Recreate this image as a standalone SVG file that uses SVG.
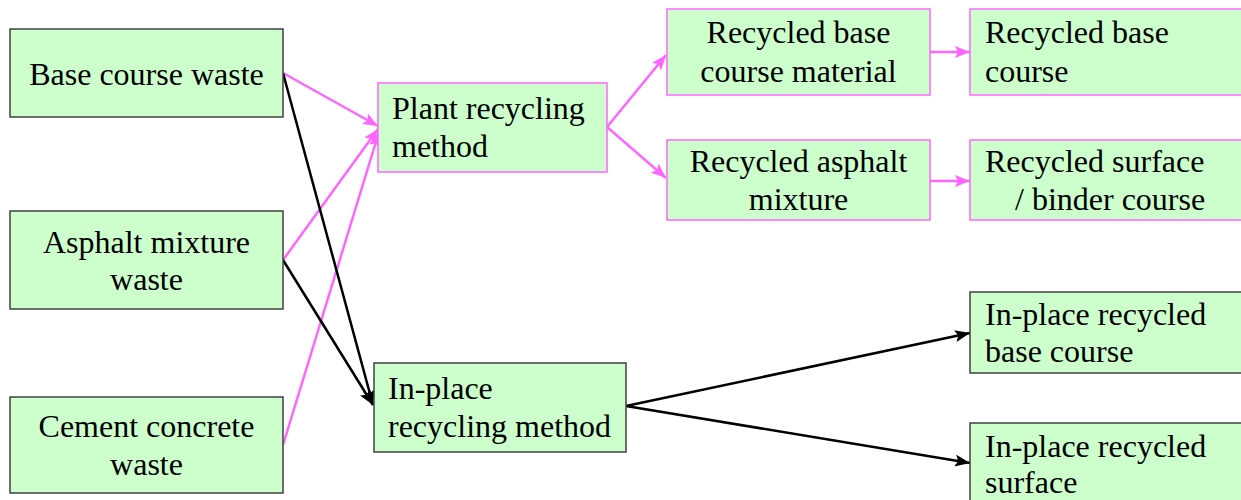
<svg xmlns="http://www.w3.org/2000/svg" width="1241" height="500" viewBox="0 0 1241 500">
<defs>
<style>
.box{fill:#ccffcc;stroke-width:1.5}
.dk{stroke:#404040}
.pk{stroke:#ff66ff}
text{font-family:"Liberation Serif","Times New Roman",serif;font-size:32px;fill:#000}
.c{text-anchor:middle}
.lp{stroke:#ff66ff;stroke-width:2.5;fill:none}
.lb{stroke:#000;stroke-width:2.5;fill:none}
</style>
<marker id="ap" markerUnits="userSpaceOnUse" markerWidth="15" markerHeight="12" viewBox="0 0 15 12" refX="15" refY="6" orient="auto"><path d="M0,0 L15,6 L0,12 L3,6 Z" fill="#ff66ff"/></marker>
<marker id="ab" markerUnits="userSpaceOnUse" markerWidth="15" markerHeight="12" viewBox="0 0 15 12" refX="15" refY="6" orient="auto"><path d="M0,0 L15,6 L0,12 L3,6 Z" fill="#000"/></marker>
</defs>
<rect width="1241" height="500" fill="#fff"/>
<g id="connectors">
<line class="lp" x1="283" y1="73" x2="378" y2="126" marker-end="url(#ap)"/>
<line class="lp" x1="283" y1="260" x2="378" y2="129" marker-end="url(#ap)"/>
<line class="lp" x1="283" y1="445" x2="379" y2="132" marker-end="url(#ap)"/>
<line class="lp" x1="607" y1="127" x2="666" y2="55" marker-end="url(#ap)"/>
<line class="lp" x1="607" y1="127" x2="666" y2="178" marker-end="url(#ap)"/>
<line class="lp" x1="930" y1="52" x2="970" y2="52" marker-end="url(#ap)"/>
<line class="lp" x1="930" y1="181" x2="970" y2="181" marker-end="url(#ap)"/>
<line class="lb" x1="283" y1="73" x2="373" y2="405" marker-end="url(#ab)"/>
<line class="lb" x1="283" y1="260" x2="373" y2="405" marker-end="url(#ab)"/>
<line class="lb" x1="626" y1="406" x2="970" y2="333" marker-end="url(#ab)"/>
<line class="lb" x1="626" y1="406" x2="970" y2="463" marker-end="url(#ab)"/>
</g>
<g id="base-course-waste"><rect class="box dk" x="10" y="29" width="273" height="88"/><text class="c" x="146.5" y="85">Base course waste</text></g>
<g id="asphalt-mixture-waste"><rect class="box dk" x="10" y="211" width="273" height="98"/><text class="c" x="146.5" y="253">Asphalt mixture</text><text class="c" x="146.5" y="290">waste</text></g>
<g id="cement-concrete-waste"><rect class="box dk" x="10" y="397" width="273" height="96"/><text class="c" x="146.5" y="437">Cement concrete</text><text class="c" x="146.5" y="475">waste</text></g>
<g id="plant-recycling"><rect class="box pk" x="378" y="83" width="229" height="89"/><text x="392" y="119">Plant recycling</text><text x="392" y="157">method</text></g>
<g id="recycled-base-material"><rect class="box pk" x="667" y="9" width="263" height="86"/><text class="c" x="798.5" y="43">Recycled base</text><text class="c" x="798.5" y="82">course material</text></g>
<g id="recycled-asphalt-mixture"><rect class="box pk" x="667" y="140" width="263" height="80"/><text class="c" x="798.5" y="172">Recycled asphalt</text><text class="c" x="798.5" y="210">mixture</text></g>
<g id="recycled-base-course"><rect class="box pk" x="970" y="9" width="280" height="86"/><text x="985" y="43">Recycled base</text><text x="985" y="82">course</text></g>
<g id="recycled-surface-binder"><rect class="box pk" x="970" y="140" width="280" height="80"/><text x="985" y="172">Recycled surface</text><text x="1015" y="210">/ binder course</text></g>
<g id="in-place-recycling"><rect class="box dk" x="374" y="363" width="252" height="89"/><text x="388" y="399">In-place</text><text x="388" y="437">recycling method</text></g>
<g id="in-place-base-course"><rect class="box dk" x="970" y="292" width="280" height="81"/><text x="985" y="325">In-place recycled</text><text x="985" y="362">base course</text></g>
<g id="in-place-surface"><rect class="box dk" x="970" y="423" width="280" height="90"/><text x="985" y="457">In-place recycled</text><text x="985" y="493">surface</text></g>
</svg>
